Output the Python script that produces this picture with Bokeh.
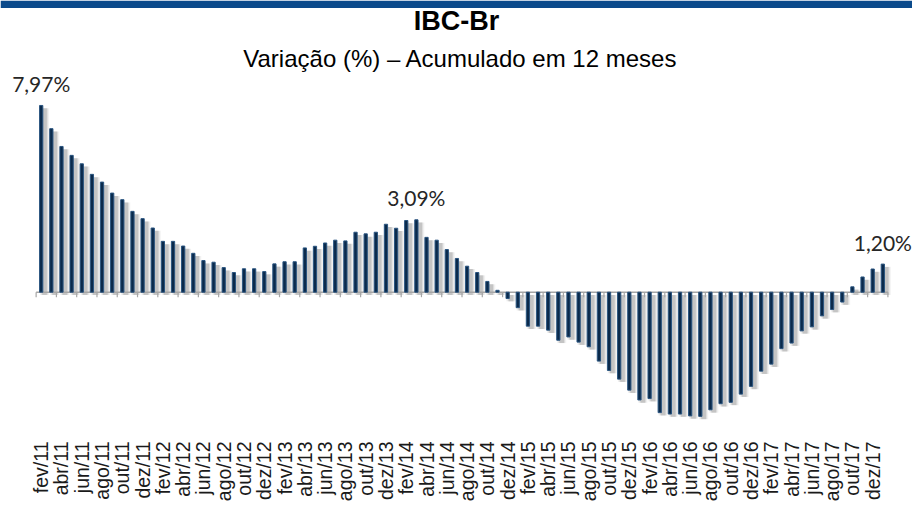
import math
from bokeh.plotting import figure
from bokeh.models import ColumnDataSource, Range1d, Label, BoxAnnotation
from bokeh.transform import dodge
from bokeh.core.properties import value
from bokeh.embed import file_html
from bokeh.resources import INLINE

# ---------------- data ----------------
meses = ["jan", "fev", "mar", "abr", "mai", "jun", "jul", "ago", "set", "out", "nov", "dez"]
anos = ["11", "12", "13", "14", "15", "16", "17", "18"]
# fev/11 ... jan/18
periodos = [f"{meses[(1 + i) % 12]}/{anos[(1 + i) // 12]}" for i in range(84)]

variacao = [
    7.97, 6.98, 6.22, 5.84, 5.48, 5.03, 4.70, 4.23, 3.95, 3.45, 3.14, 2.74,
    2.17, 2.17, 1.97, 1.66, 1.35, 1.28, 1.05, 0.84, 1.00, 1.00, 0.88, 1.21,
    1.30, 1.30, 1.89, 1.96, 2.10, 2.22, 2.19, 2.56, 2.49, 2.56, 2.90, 2.73,
    3.06, 3.09, 2.34, 2.22, 1.82, 1.44, 1.11, 0.84, 0.46, 0.08, -0.27, -0.66,
    -1.45, -1.45, -1.62, -2.05, -1.91, -2.13, -2.33, -2.94, -3.34, -3.71, -4.18, -4.60,
    -4.54, -5.14, -5.20, -5.20, -5.28, -5.30, -5.02, -4.76, -4.70, -4.35, -4.02, -3.37,
    -3.07, -2.41, -2.17, -1.65, -1.48, -1.01, -0.74, -0.42, 0.23, 0.65, 0.99, 1.20,
]
destaques = ["fev/11", "mar/14", "jan/18"]

titulo = "IBC-Br"
subtitulo = "Variação (%) – Acumulado em 12 meses"

# ---------------- layout ----------------
W, H = 912, 508
PX_X = 10.14      # pixels per month
X0_PX = 40.7      # pixel of first bar
PX_Y = 23.43      # pixels per percentage point
ZERO_PX = 291.7   # pixel row of zero line

xs = -X0_PX / PX_X
xe = (W - X0_PX) / PX_X
ye = ZERO_PX / PX_Y
ys = ye - H / PX_Y


def dx(px):
    return xs + px / PX_X


def dy(py):
    return ye - py / PX_Y


p = figure(width=W, height=H, output_backend="svg", toolbar_location=None,
           x_range=Range1d(xs, xe), y_range=Range1d(ys, ye),
           x_axis_type=None, y_axis_type=None,
           min_border=0, min_border_left=0, min_border_right=0,
           min_border_top=0, min_border_bottom=0,
           outline_line_color=None, background_fill_color="white",
           border_fill_color="white")
p.grid.visible = False

idx = list(range(len(variacao)))
zeros = [0.0] * len(variacao)
src = ColumnDataSource(dict(x=idx, v=variacao, z=zeros, lab=periodos))

# header band
p.add_layout(BoxAnnotation(bottom=dy(7.5), fill_color="#0b4a8b", fill_alpha=1.0,
                           line_color=None))

# shadows
for w, a in [(0.9, 0.10), (0.65, 0.17), (0.45, 0.26)]:
    p.vbar(x=dodge("x", 0.33, range=p.x_range), top=dodge("v", -0.12, range=p.y_range),
           bottom=dodge("z", -0.12, range=p.y_range), width=w, source=src,
           fill_color="#7a7a7a", fill_alpha=a, line_color=None)

# zero axis line and ticks
n = len(variacao)
p.segment(x0=[-0.5], y0=[0], x1=[n - 0.5], y1=[0], line_color="#a6a6a6", line_width=1.6)
tick_x = [i - 0.5 for i in range(0, n + 1, 2)]
p.segment(x0=tick_x, y0=[0] * len(tick_x), x1=tick_x, y1=[-5 / PX_Y] * len(tick_x),
          line_color="#a6a6a6", line_width=1.2)

# bars
p.vbar(x="x", top="v", bottom=0, width=0.32, source=src,
       fill_color="#0b2a4b", line_color="#2a5580", line_width=1)

# data labels
hl_idx = [periodos.index(d) for d in destaques]
hl_v = [variacao[i] for i in hl_idx]
hl_txt = [f"{v:.2f}".replace(".", ",") + "%" for v in hl_v]
p.text(x=hl_idx, y=hl_v, text=hl_txt, y_offset=-22, text_align="center",
       text_baseline="alphabetic", text_font=value("Lato"), text_font_size="21px",
       text_color="#262626")

# category labels (every other month), rotated
lab_idx = idx[::2]
p.text(x=lab_idx, y=[dy(441)] * len(lab_idx), text=[periodos[i] for i in lab_idx],
       angle=math.pi / 2, text_align="right", text_baseline="middle",
       text_font=value("Liberation Sans"), text_font_size="19.5px", text_color="#1a1a1a")

# titles
p.add_layout(Label(x=dx(456), y=dy(20), text=titulo, text_align="center",
                   text_baseline="alphabetic", text_font="Liberation Sans",
                   text_font_style="bold", text_font_size="27px", text_color="black"))
p.add_layout(Label(x=dx(460), y=dy(58), text=subtitulo, text_align="center",
                   text_baseline="alphabetic", text_font="Liberation Sans",
                   text_font_size="24px", text_color="black"))

open("out.html", "w").write(file_html(p, INLINE))
